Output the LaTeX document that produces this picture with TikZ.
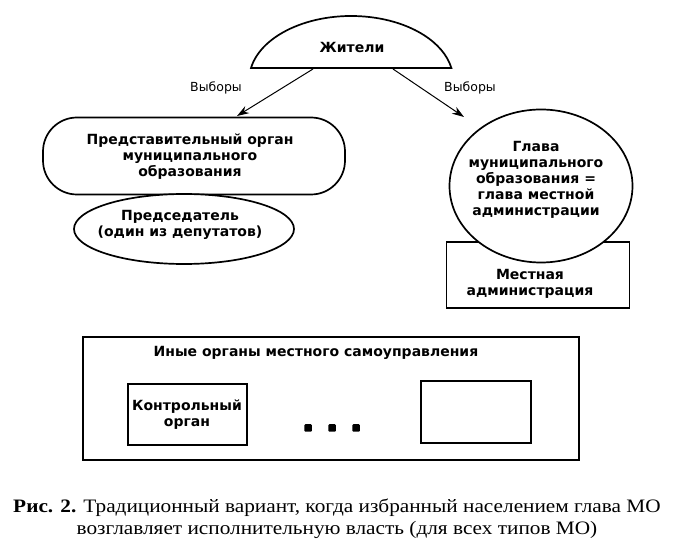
\documentclass[tikz,border=0pt]{standalone}
\usepackage{fontspec}
\setmainfont{Liberation Serif}
\newfontfamily\dsans{DejaVu Sans}
\usetikzlibrary{shapes.geometric,arrows.meta}
\begin{document}
\begin{tikzpicture}[x=1pt,y=-1pt,
  line width=1.7pt,
  lbl/.style={font=\dsans\bfseries\fontsize{14}{16}\selectfont, align=center, inner sep=0pt},
  vyb/.style={font=\dsans\fontsize{12.5}{14}\selectfont, inner sep=0pt},
  arr/.style={line width=1pt, -{Stealth[length=12pt,width=8pt]}},
  boxw/.style={draw, fill=white, inner sep=0pt},
  dot/.style={fill=black, rounded corners=1pt, minimum size=7.5pt, inner sep=0pt}]
\useasboundingbox (0,0) rectangle (689,548);
% dome
\draw[fill=white] (251,68) arc[start angle=190.8, end angle=349.2, x radius=102, y radius=64] -- cycle;
\node[lbl] (zh) at (352,47) {Жители};
\coordinate (zhL) at (313,69);
\coordinate (zhR) at (393,69);
% representative body
\node[boxw, rounded corners=34pt, minimum width=302pt, minimum height=77pt] (pred) at (194,156) {};
\node[lbl] (predt) at (190,157) {Представительный орган\\муниципального\\образования};
\node[boxw, ellipse, minimum width=220pt, minimum height=70pt] (chair) at (184,229) {};
\node[lbl] (chairt) at (180,225) {Председатель\\(один из депутатов)};
% administration
\node[boxw, minimum width=183pt, minimum height=66pt] (adm) at (538,275) {};
\node[lbl] (admt) at (530,284) {Местная\\администрация};
\node[boxw, ellipse, minimum width=183pt, minimum height=153pt] (head) at (541,186) {};
\node[lbl] (headt) at (536,180) {Глава\\муниципального\\образования =\\глава местной\\администрации};
% arrows
\coordinate (pe) at (237,116);
\coordinate (he) at (464,117);
\draw[arr] (zhL) -- (pe);
\draw[arr] (zhR) -- (he);
\node[vyb] (v1) at (216,88) {Выборы};
\node[vyb] (v2) at (470,88) {Выборы};
% other bodies
\node[draw, minimum width=496pt, minimum height=123pt, inner sep=0pt] (other) at (331,398.5) {};
\node[lbl] (othert) at (316,353) {Иные органы местного самоуправления};
\node[draw, minimum width=119pt, minimum height=61pt, inner sep=0pt] (ctrl) at (187.5,414.5) {};
\node[lbl] (ctrlt) at (187,415) {Контрольный\\орган};
\node[draw, minimum width=110pt, minimum height=62pt, inner sep=0pt] (empty) at (476,412) {};
\node[dot] (d1) at (308,428) {};
\node[dot] (d2) at (332,428) {};
\node[dot] (d3) at (356,428) {};
% caption
\node[font=\fontsize{19}{22}\selectfont, align=center, inner sep=0pt] (cap) at (337,519)
  {\scalebox{1.12}[1]{\textbf{Рис. 2.} Традиционный вариант, когда избранный населением глава МО}\\\scalebox{1.12}[1]{возглавляет исполнительную власть (для всех типов МО)}};
\end{tikzpicture}
\end{document}
